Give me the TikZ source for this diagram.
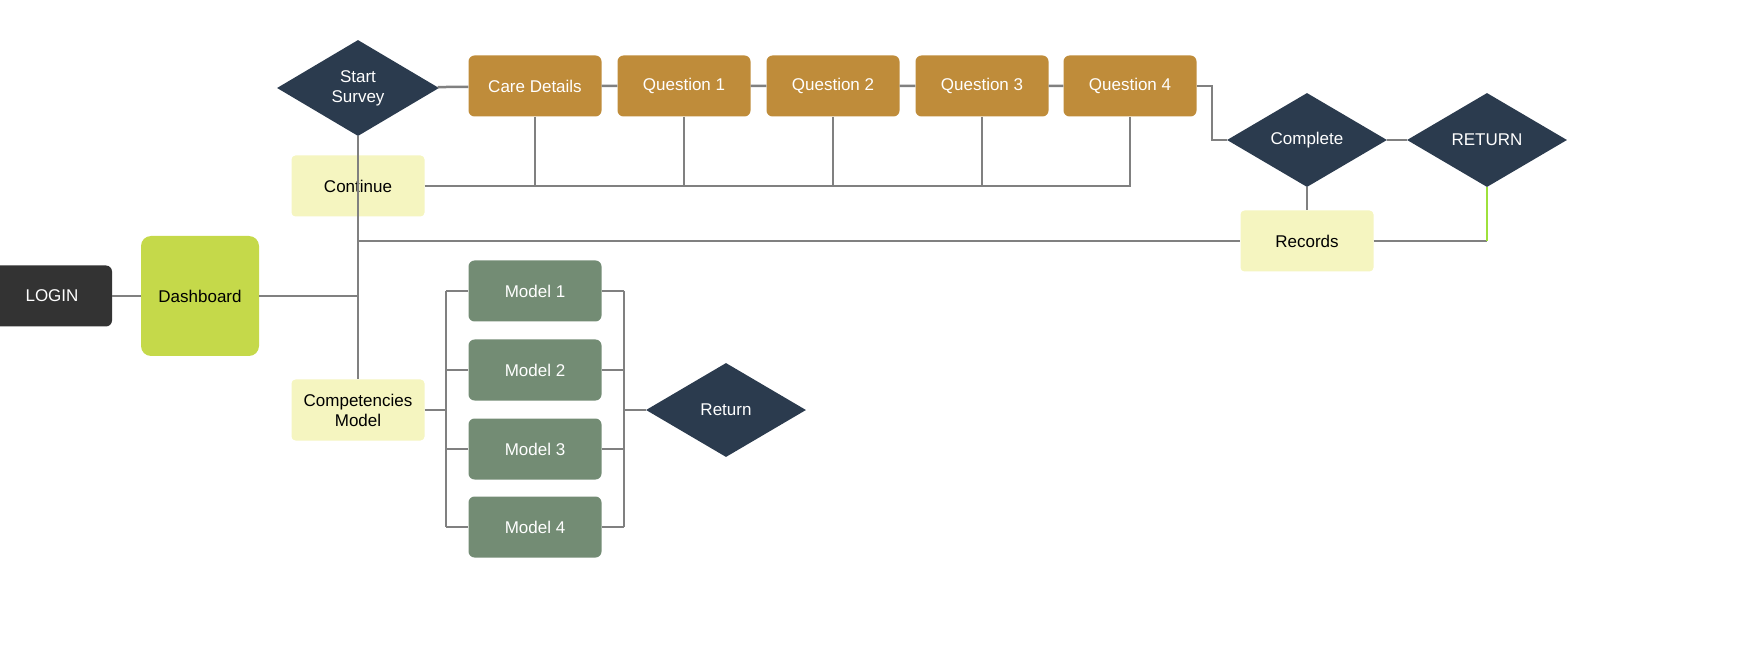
\documentclass[tikz,border=0pt]{standalone}
\usepackage{fontspec}
\setmainfont{Liberation Sans}
\usetikzlibrary{shapes.geometric}
\definecolor{navy}{HTML}{2B3B4E}
\definecolor{gold}{HTML}{BF8C3A}
\definecolor{sage}{HTML}{738C74}
\definecolor{cream}{HTML}{F5F5C0}
\definecolor{lime}{HTML}{C5D94A}
\definecolor{wire}{HTML}{808080}
\begin{document}
\begin{tikzpicture}[x=1pt, y=-1pt,
  every node/.style = {align=center, font=\fontsize{17}{20}\selectfont},
  box/.style = {shape=rectangle, rounded corners=6pt, minimum width=133pt, minimum height=61pt},
  step box/.style = {box, fill=gold, text=white},
  model box/.style = {box, fill=sage, text=white},
  note box/.style = {box, fill=cream, text=black, rounded corners=4pt},
  choice/.style = {shape=diamond, aspect=1.7, fill=navy, text=white, minimum width=162pt, minimum height=96pt, inner sep=0pt},
  wire/.style = {draw=wire, line width=2.5pt}]
  \useasboundingbox (0,0) rectangle (1741,668);
  % nodes
  \node [box, fill=black!80, text=white, minimum width=120pt] (login) at (52,296) {LOGIN};
  \node [box, fill=lime, rounded corners=10pt, minimum width=118pt, minimum height=120pt] (dash) at (200,296) {Dashboard};
  \node [choice] (start) at (358,88) {Start\\Survey};
  \node [note box] (cont) at (358,186) {Continue};
  \node [note box] (comp) at (358,410) {Competencies\\Model};
  \node [step box] (care) at (535,86) {Care Details};
  \node [step box] (q1) at (684,86) {Question 1};
  \node [step box] (q2) at (833,86) {Question 2};
  \node [step box] (q3) at (982,86) {Question 3};
  \node [step box] (q4) at (1130,86) {Question 4};
  \node [choice, minimum width=160pt, minimum height=94pt] (done) at (1307,140) {Complete};
  \node [choice, minimum width=160pt, minimum height=94pt] (ret) at (1487,140) {RETURN};
  \node [note box] (rec) at (1307,241) {Records};
  \foreach \i/\y in {1/291, 2/370, 3/449, 4/527}
    \node [model box] (m\i) at (535,\y) {Model \i};
  \node [choice, minimum width=160pt, minimum height=94pt] (back) at (726,410) {Return};
  \coordinate (hub) at (358,296);
  \coordinate (bus) at (358,241);
  \coordinate (lsp) at (446,410);
  \coordinate (rsp) at (624,410);
  % connectors
  \begin{scope}[on background layer/.try]
  \draw [wire] (login) -- (dash);
  \draw [wire] (dash.east) -- (hub);
  \draw [wire] (start.south) -- (comp.north);
  \draw [wire] (start) -- (care) -- (q1) -- (q2) -- (q3) -- (q4);
  \draw [wire] (q4.east) -| (1212,140) -- (done.west);
  \draw [wire] (cont.east) -- (q4.south |- cont.east) -- (q4.south);
  \foreach \q in {care, q1, q2, q3}
    \draw [wire] (\q.south) -- (\q.south |- cont.east);
  \draw [wire] (done) -- (ret);
  \draw [wire] (done.south) -- (rec.north);
  \draw [wire] (bus) -- (rec.west);
  \draw [wire] (rec.east) -- (ret.south |- rec.east);
  \draw [wire, draw=lime!80!green] (ret.south |- rec.east) -- (ret.south);
  \draw [wire] (comp.east) -- (lsp);
  \draw [wire] (lsp |- m1) -- (lsp |- m4);
  \draw [wire] (rsp |- m1) -- (rsp |- m4);
  \foreach \i in {1,...,4} {
    \draw [wire] (lsp |- m\i) -- (m\i.west);
    \draw [wire] (m\i.east) -- (rsp |- m\i);
  }
  \draw [wire] (rsp) -- (back.west);
  \end{scope}
\end{tikzpicture}
\end{document}
